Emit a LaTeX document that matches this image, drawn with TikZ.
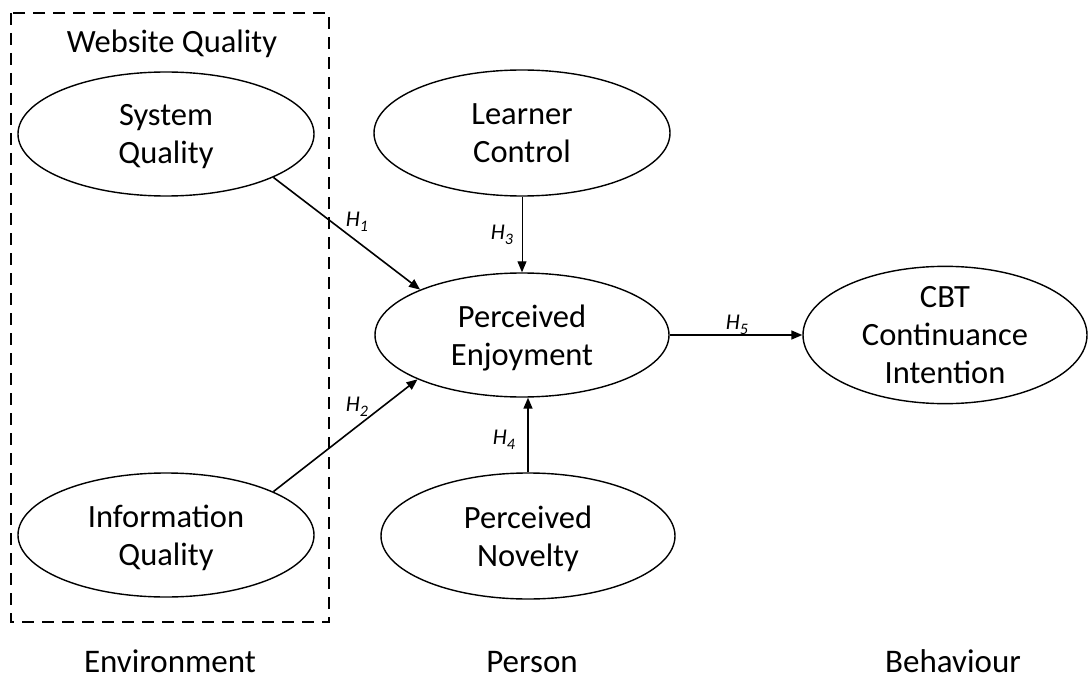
\documentclass[tikz,border=0pt]{standalone}
\usepackage{fontspec}
\setmainfont{Carlito}
\usetikzlibrary{shapes.geometric,arrows.meta}
% hypothesis label: italic H with a lowered italic index
\newcommand{\hlabel}[1]{H\raisebox{-4.5pt}{\fontsize{16}{16}\selectfont #1}}
\begin{document}
\begin{tikzpicture}[x=1pt,y=-1pt,
  construct/.style={ellipse,draw,line width=1.4pt,inner sep=0pt,align=center,
    text depth=0pt,font=\fontsize{32.5}{38}\selectfont},
  link/.style={line width=1.6pt,-{Triangle[length=11pt,width=9pt]}},
  thinlink/.style={line width=1pt,-{Triangle[length=11pt,width=9pt]}},
  hyp/.style={font=\fontsize{22.5}{24}\selectfont\itshape},
  tier/.style={anchor=base,inner sep=0pt,text depth=0pt,font=\fontsize{33}{38}\selectfont}
]
\useasboundingbox (0,0) rectangle (1089,679);

% Website Quality group frame
\draw[line width=1.3pt,dash pattern=on 12pt off 8pt] (11,13) rectangle (329,622);
\node[font=\fontsize{32.5}{38}\selectfont,anchor=base] (wq) at (172,53) {Website Quality};

% Constructs
\node[construct,minimum width=296pt,minimum height=124pt] (sq) at (166,134) {System\\Quality};
\node[construct,minimum width=296pt,minimum height=124pt] (iq) at (166,535) {Information\\Quality};
\node[construct,minimum width=296pt,minimum height=126pt] (lc) at (522,133) {Learner\\Control};
\node[construct,minimum width=294pt,minimum height=124pt] (pe) at (522,335) {Perceived\\Enjoyment};
\node[construct,minimum width=294pt,minimum height=126pt] (pn) at (528,536) {Perceived\\Novelty};
\node[construct,minimum width=284pt,minimum height=126pt] (cbt) at (945,335) {CBT\\Continuance\\Intention};

% Hypothesised paths
\draw[link] (sq.-22.5) -- (pe.156);
\draw[link] (iq.22) -- (pe.203);
\draw[thinlink] (lc.south) -- (pe.north);
\draw[link] (pn.north) -- (pn.north |- pe.south);
\draw[link] (pe.east) -- (cbt.west);

\node[hyp] (h1) at (357,222) {\hlabel{1}};
\node[hyp] (h2) at (357,407) {\hlabel{2}};
\node[hyp] (h3) at (502,235) {\hlabel{3}};
\node[hyp] (h4) at (504,440) {\hlabel{4}};
\node[hyp] (h5) at (737,325) {\hlabel{5}};

% Tier labels
\node[tier] (env) at (170,672) {Environment};
\node[tier] (per) at (532,672) {Person};
\node[tier] (beh) at (953,672) {Behaviour};
\end{tikzpicture}
\end{document}
